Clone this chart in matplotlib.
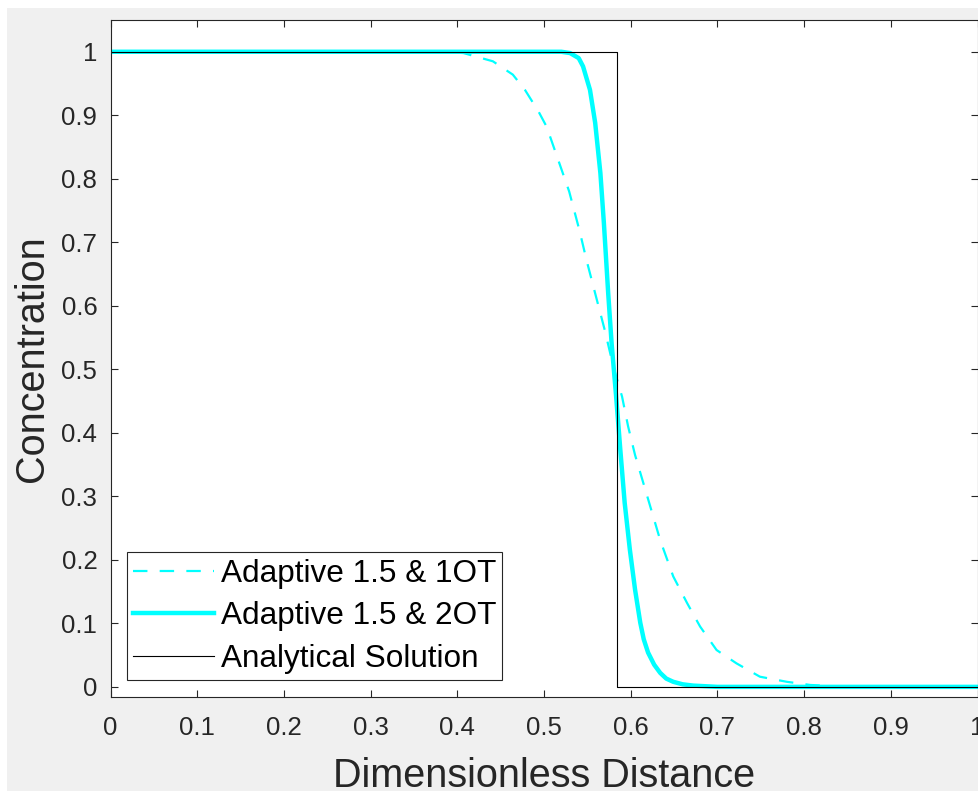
import matplotlib
matplotlib.use("Agg")
import matplotlib.pyplot as plt
from matplotlib.patches import Rectangle
import numpy as np

plt.rcParams["font.family"] = ["Liberation Sans", "DejaVu Sans"]

## values
x_1ot = [0.0, 0.38, 0.407, 0.441, 0.464, 0.478, 0.494, 0.503, 0.515, 0.529, 0.541,
         0.549, 0.561, 0.570, 0.580, 0.590, 0.597, 0.605, 0.618, 0.634, 0.649,
         0.665, 0.680, 0.699, 0.722, 0.749, 0.780, 0.807, 0.85, 1.0]
c_1ot = [1.0, 1.0, 0.998, 0.985, 0.964, 0.940, 0.905, 0.882, 0.835, 0.780, 0.718,
         0.672, 0.609, 0.562, 0.504, 0.457, 0.410, 0.365, 0.305, 0.231, 0.174,
         0.132, 0.095, 0.058, 0.037, 0.016, 0.008, 0.003, 0.0, 0.0]

x_2ot = [0.0, 0.52, 0.530, 0.540, 0.545, 0.553, 0.559, 0.565, 0.569, 0.574, 0.578,
         0.583, 0.588, 0.593, 0.599, 0.605, 0.611, 0.615, 0.620, 0.627, 0.634,
         0.641, 0.649, 0.660, 0.672, 0.70, 1.0]
c_2ot = [1.0, 1.0, 0.998, 0.990, 0.977, 0.940, 0.888, 0.809, 0.731, 0.620, 0.540,
         0.460, 0.373, 0.290, 0.216, 0.153, 0.101, 0.075, 0.054, 0.035, 0.022,
         0.013, 0.008, 0.004, 0.002, 0.0, 0.0]

x_exact = [0.0, 0.584, 0.584, 1.0]
c_exact = [1.0, 1.0, 0.0, 0.0]

labels = ["Adaptive 1.5 & 1OT", "Adaptive 1.5 & 2OT", "Analytical Solution"]
ticks = np.round(np.arange(0, 1.01, 0.1), 1)
tick_labels = ["0"] + [f"{t:g}" for t in ticks[1:-1]] + ["1"]

dark = "#262626"

fig = plt.figure(figsize=(9.79, 7.91), dpi=100, facecolor="white")
fig.patches.append(Rectangle((7 / 979, 0), 1, 783 / 791, transform=fig.transFigure,
                             facecolor="#f0f0f0", edgecolor="none", zorder=-10))
ax = fig.add_axes([0.1129, 0.1188, 0.8856, 0.8559])

ax.plot(x_1ot, c_1ot, color="#00ffff", lw=1.6, dashes=(6.5, 5.5), label=labels[0])
ax.plot(x_2ot, c_2ot, color="#00ffff", lw=3.2, label=labels[1])
ax.plot(x_exact, c_exact, color="black", lw=0.8, label=labels[2])

ax.set_xlim(0, 1)
ax.set_ylim(-0.016, 1.05)
ax.set_xticks(ticks)
ax.set_xticklabels(tick_labels)
ax.set_yticks(ticks)
ax.set_yticklabels(tick_labels)
ax.tick_params(direction="in", length=5, width=0.8, top=True, right=True,
               labelsize=18.5, colors=dark)
ax.tick_params(axis="x", pad=14)
ax.tick_params(axis="y", pad=9.5)
for s in ax.spines.values():
    s.set_color(dark)
    s.set_linewidth(0.8)

ax.set_xlabel("Dimensionless Distance", fontsize=28.5, color=dark)
ax.set_ylabel("Concentration", fontsize=28.5, color=dark)
ax.xaxis.set_label_coords(0.5, -0.088)
ax.yaxis.set_label_coords(-0.0686, 0.5)

leg = ax.legend(loc="lower left", bbox_to_anchor=(0.019, 0.025), borderaxespad=0,
                fontsize=22.7, handlelength=2.55, handletextpad=0.22,
                labelspacing=0.4, borderpad=0.2, fancybox=False, framealpha=1)
leg.get_frame().set_edgecolor(dark)
leg.get_frame().set_linewidth(0.8)

fig.savefig("out.png", dpi=100, facecolor=fig.get_facecolor())
